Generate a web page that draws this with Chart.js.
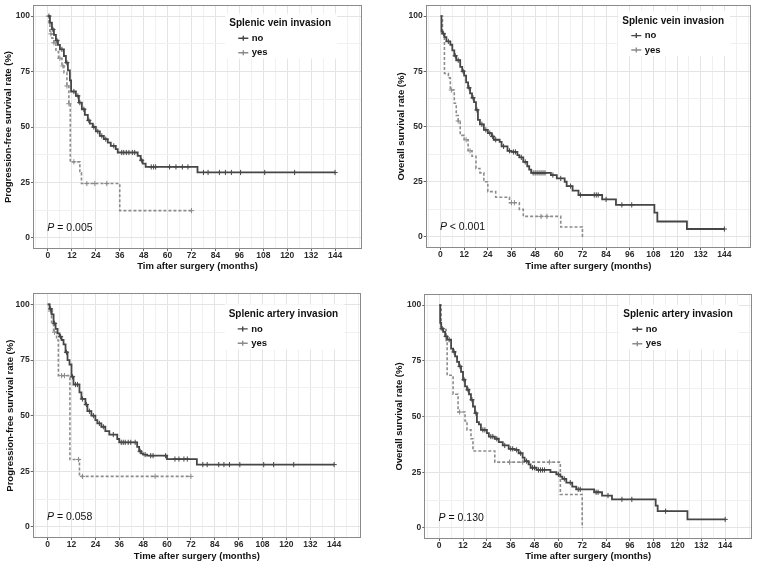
<!DOCTYPE html>
<html>
<head>
<meta charset="utf-8">
<script src="https://cdn.jsdelivr.net/npm/chart.js@4.4.1/dist/chart.umd.min.js"></script>
<style>
  body { margin: 0; background: #fff; }
  #wrap { position: relative; width: 760px; height: 565px; }
  canvas { position: absolute; }
</style>
</head>
<body>
<div id="wrap">
  <canvas id="pfsVein" width="380" height="280" style="left:0;top:0"></canvas>
  <canvas id="osVein" width="380" height="280" style="left:380px;top:0"></canvas>
  <canvas id="pfsArtery" width="380" height="285" style="left:0;top:280px"></canvas>
  <canvas id="osArtery" width="380" height="285" style="left:380px;top:280px"></canvas>
</div>
<script>
var FONT = '"Liberation Sans", Arial, Helvetica, sans-serif';
var NO_COLOR = '#464646';
var YES_COLOR = '#8c8c8c';

var xTickLabels = ['0', '12', '24', '36', '48', '60', '72', '84', '96', '108', '120', '132', '144'];
var yTickLabels = ['0', '25', '50', '75', '100'];
var groupNames = ['no', 'yes'];

// top left: progression-free survival, splenic vein invasion
var pfsVeinNoT = [0, 1, 2, 3, 4, 5, 6, 8, 9, 10, 11, 11.6, 14, 15.5, 17, 18.5, 20, 21, 22.5, 24, 26, 28, 30, 31.5, 34, 35, 45, 46.5, 47.5, 49, 75, 144];
var pfsVeinNoS = [100, 97, 94, 91.5, 89, 87, 85, 82, 79, 75.5, 71, 66, 64, 61, 58, 55.5, 53, 51.5, 50, 48, 46, 44.5, 43, 41.5, 40, 38.5, 37, 35, 33.5, 32, 29.5, 29.5];
var pfsVeinNoCens = [0.5, 2.5, 4.5, 7, 9.5, 13, 15, 16, 18, 20.5, 23, 25, 27, 29, 33, 37, 38, 39.3, 40.6, 42.3, 43.5, 47, 51.8, 53, 54, 61, 64.2, 67.4, 70.2, 78, 80.3, 86, 89, 92, 96.6, 108.7, 123.7, 144];
var pfsVeinYesT = [0, 0.5, 1, 2, 3, 4, 5.3, 7, 8, 9.5, 10.5, 11.2, 16, 16.8, 36, 72];
var pfsVeinYesS = [100, 97, 92, 90, 88, 84, 81, 77.5, 74.5, 68.5, 60.5, 34.3, 29.3, 24.5, 12.3, 12.3];
var pfsVeinYesCens = [1.5, 3, 6, 7.5, 9.5, 10.5, 13, 19.5, 23.5, 29.5, 72];

// top right: overall survival, splenic vein invasion
var osVeinNoT = [0, 0.5, 1, 2, 3, 5, 6, 7, 8, 10, 11, 12, 13, 14, 15, 16, 17, 18, 19, 20, 22, 24, 26, 27, 30, 31, 34, 36, 39, 40, 42, 44, 45, 46, 56, 59, 63, 64, 67, 70, 82, 89, 108.5, 110, 125, 144];
var osVeinNoS = [100, 93, 92, 90.5, 88.5, 87, 84.5, 82, 80, 77, 75, 73, 70, 67.5, 65, 63, 61, 57.5, 53, 51, 48.5, 47, 45.5, 44, 43, 41, 39, 38.5, 37, 36, 34, 32, 30.5, 29, 28, 26.5, 25, 23, 21, 19, 17, 14.5, 11, 7, 3.6, 3.6];
var osVeinNoCens = [1.5, 4, 7.5, 9, 11.5, 14.5, 16.5, 18.5, 21, 23, 25, 26.5, 28, 32, 35, 37, 38, 41, 43, 47, 48, 49, 50, 51, 52, 53, 57, 61, 66, 71, 78, 79, 80, 84, 92, 97, 144];
var osVeinYesT = [0, 1, 2, 4, 5, 7, 8, 9, 10, 12, 14, 16, 18, 20, 22, 24, 28, 35, 40, 42, 61, 72];
var osVeinYesS = [100, 92, 74, 72, 66.5, 60.5, 55, 52.5, 46, 44, 39, 36.5, 31, 29, 25, 20.5, 18, 15.5, 12.5, 9.3, 4.5, 0];
var osVeinYesCens = [5.5, 9, 13, 15, 36, 37.5, 51, 54];

// bottom left: progression-free survival, splenic artery invasion
var pfsArteryNoT = [0, 1, 2, 3, 4, 5, 6, 7, 8, 9, 10, 11, 12, 13, 16, 17, 19, 20, 22, 24, 25, 27, 29, 31, 35, 36, 45, 46, 47, 48, 50, 60, 75, 144];
var pfsArteryNoS = [100, 98, 95.5, 91.5, 89, 87, 85.5, 84, 82, 78.5, 75, 73, 67.5, 64, 60.5, 57.5, 55, 52, 50, 48, 46.5, 45, 43, 41.5, 39.5, 38, 36, 34, 33, 32.5, 32, 30.5, 28, 28];
var pfsArteryNoCens = [1.5, 3.5, 6.5, 9.5, 12.5, 14, 15, 17.5, 19.5, 21, 23, 26, 28, 33, 37, 38, 39, 40.5, 41.8, 44, 46.5, 49, 51.8, 53, 59.3, 64, 66, 68.5, 70.2, 78, 80.2, 86, 88.6, 91.4, 96.6, 108.6, 113.6, 123.7, 144];
var pfsArteryYesT = [0, 1, 2, 3, 4.5, 5.4, 11.2, 16, 72];
var pfsArteryYesS = [100, 97, 91, 87.5, 84, 68, 30.3, 22.7, 22.7];
var pfsArteryYesCens = [1.5, 3.5, 7, 8.5, 15.5, 17.5, 54, 72];

// bottom right: overall survival, splenic artery invasion
var osArteryNoT = [0, 0.5, 1, 2, 3, 4, 6, 7, 8, 9, 10, 11, 12, 13, 14, 15, 16, 17, 18, 19, 20, 21, 24, 25, 28, 30, 32, 35, 38, 40, 42, 43, 45, 46, 49, 56, 59, 61, 62, 64, 67, 69, 78, 82, 87, 109, 110, 125, 144];
var osArteryNoS = [100, 92, 89.5, 88, 86, 84.5, 80.5, 79, 77, 74.5, 72.5, 70, 66.5, 63.5, 62, 60, 57.5, 54.5, 51.5, 47.5, 46.5, 44, 42.5, 41, 40, 38.5, 37, 35.5, 35, 33.5, 31.5, 30, 28.5, 27, 26, 25, 24, 23, 22, 20.3, 18.5, 17.3, 16, 14.5, 12.8, 10, 7.5, 3.8, 3.8];
var osArteryNoCens = [1.5, 3.5, 5, 7.5, 10.5, 12.5, 14.5, 16.5, 18.5, 22, 23, 26, 27, 29, 33, 36, 37, 39, 41, 44, 47, 48, 50, 51, 52, 53, 60, 63, 66, 70, 71, 79, 80, 85, 92, 97, 114, 144];
var osArteryYesT = [0, 1, 3.5, 4, 7, 9.5, 13, 14, 16, 17, 28, 61, 72];
var osArteryYesS = [100, 89, 84, 68.5, 60, 52, 48, 44, 40, 34.5, 29.5, 15, 0];
var osArteryYesCens = [10.3, 35.4, 42, 55.5];

var pTexts = ['= 0.005', '< 0.001', '= 0.058', '= 0.130'];

function survAt(T, S, t) {
  var v = S[0];
  for (var i = 0; i < T.length; i++) {
    if (T[i] <= t) v = S[i];
  }
  return v;
}

function stepPoints(T, S) {
  return T.map(function (t, i) { return { x: t, y: S[i] }; });
}

function censorPoints(T, S, C) {
  return C.map(function (t) { return { x: t, y: survAt(T, S, t) }; });
}

// gridline positions (majors + ggplot-style minor lines)
var gridX = [];
for (var gx = -6; gx <= 156; gx += 6) gridX.push(gx);
var gridY = [0, 12.5, 25, 37.5, 50, 62.5, 75, 87.5, 100];

// legend inside panel, p-value and panel border
var kmDecor = {
  id: 'kmDecor',
  beforeDatasetsDraw: function (chart, args, opts) {
    var ctx = chart.ctx, a = chart.chartArea;
    var lx = a.right - opts.legendDx, ly = a.top + opts.legendDy;
    ctx.save();
    ctx.font = 'bold 10px ' + FONT;
    var tw = ctx.measureText(opts.legendTitle).width;
    ctx.fillStyle = '#fff';
    ctx.fillRect(lx - 4, ly - 10, tw + 10, 45);
    ctx.fillStyle = '#111';
    ctx.textAlign = 'left';
    ctx.textBaseline = 'middle';
    ctx.fillText(opts.legendTitle, lx, ly);

    var colors = [NO_COLOR, YES_COLOR];
    groupNames.forEach(function (name, i) {
      var cy = ly + 14.6 + i * 14.4, cx = lx + 14;
      ctx.strokeStyle = colors[i];
      ctx.lineWidth = 1.4;
      ctx.beginPath();
      ctx.moveTo(cx - 5, cy); ctx.lineTo(cx + 5, cy);
      ctx.moveTo(cx, cy - 2.5); ctx.lineTo(cx, cy + 2.5);
      ctx.stroke();
      ctx.fillStyle = '#111';
      ctx.font = 'bold 9.5px ' + FONT;
      ctx.fillText(name, lx + 22.5, cy);
    });

    var px = chart.scales.x.getPixelForValue(-0.3);
    var py = chart.scales.y.getPixelForValue(4.4);
    ctx.font = 'italic 10.5px ' + FONT;
    ctx.fillStyle = '#111';
    ctx.fillText('P', px, py);
    var pw = ctx.measureText('P').width;
    ctx.font = '10.5px ' + FONT;
    ctx.fillText(' ' + opts.pText, px + pw, py);
    ctx.restore();
  },
  afterDraw: function (chart) {
    var ctx = chart.ctx, a = chart.chartArea;
    ctx.save();
    ctx.strokeStyle = '#8a8a8a';
    ctx.lineWidth = 1;
    ctx.strokeRect(Math.round(a.left) + 0.5, Math.round(a.top) + 0.5,
      Math.round(a.right - a.left) - 1, Math.round(a.bottom - a.top) - 1);
    ctx.restore();
  }
};

function isMajorX(v) { return xTickLabels.indexOf(String(v)) >= 0; }
function isMajorY(v) { return yTickLabels.indexOf(String(v)) >= 0; }

function makeKM(id, noT, noS, noC, yesT, yesS, yesC, yTitle, xTitle, legendTitle, pText, box) {
  return new Chart(document.getElementById(id), {
    type: 'line',
    data: {
      datasets: [
        {
          label: 'no',
          data: stepPoints(noT, noS),
          stepped: true,
          borderColor: NO_COLOR,
          borderWidth: 1.8,
          pointRadius: 0,
          fill: false
        },
        {
          label: 'yes',
          data: stepPoints(yesT, yesS),
          stepped: true,
          borderColor: YES_COLOR,
          borderWidth: 1.6,
          borderDash: [3, 2],
          pointRadius: 0,
          fill: false
        },
        {
          label: 'no censored',
          data: censorPoints(noT, noS, noC),
          showLine: false,
          pointStyle: 'cross',
          pointRadius: 2.6,
          pointBorderWidth: 1,
          pointBorderColor: NO_COLOR
        },
        {
          label: 'yes censored',
          data: censorPoints(yesT, yesS, yesC),
          showLine: false,
          pointStyle: 'cross',
          pointRadius: 2.6,
          pointBorderWidth: 1,
          pointBorderColor: YES_COLOR
        }
      ]
    },
    options: {
      responsive: false,
      animation: false,
      devicePixelRatio: 1,
      layout: {
        padding: { left: 0, top: box.padTop, right: box.padRight, bottom: box.padBottom }
      },
      plugins: {
        legend: { display: false },
        tooltip: { enabled: false },
        kmDecor: { legendTitle: legendTitle, pText: pText, legendDx: box.legendDx, legendDy: box.legendDy }
      },
      scales: {
        x: {
          type: 'linear',
          min: -7.5,
          max: 157.5,
          afterBuildTicks: function (s) { s.ticks = gridX.map(function (v) { return { value: v }; }); },
          afterFit: function (s) { s.height = box.xH; s.paddingLeft = 0; s.paddingRight = 0; },
          border: { display: false },
          grid: {
            color: function (c) { return isMajorX(c.tick.value) ? '#e4e4e4' : '#f0f0f0'; },
            lineWidth: 1,
            tickLength: 2,
            tickColor: function (c) { return isMajorX(c.tick.value) ? '#666' : 'rgba(0,0,0,0)'; }
          },
          ticks: {
            autoSkip: false,
            maxRotation: 0,
            padding: 0,
            color: '#2a2a2a',
            font: { family: FONT, size: 8.5, weight: 'bold' },
            callback: function (v) { return isMajorX(v) ? String(v) : ''; }
          },
          title: {
            display: true,
            text: xTitle,
            color: '#111',
            padding: { top: 0, bottom: box.xTitlePad },
            font: { family: FONT, size: 9.5, weight: 'bold' }
          }
        },
        y: {
          min: -5,
          max: 105,
          afterBuildTicks: function (s) { s.ticks = gridY.map(function (v) { return { value: v }; }); },
          afterFit: function (s) { s.width = box.yW; s.paddingTop = 0; s.paddingBottom = 0; },
          border: { display: false },
          grid: {
            color: function (c) { return isMajorY(c.tick.value) ? '#e4e4e4' : '#f0f0f0'; },
            lineWidth: 1,
            tickLength: 2,
            tickColor: function (c) { return isMajorY(c.tick.value) ? '#666' : 'rgba(0,0,0,0)'; }
          },
          ticks: {
            autoSkip: false,
            padding: 1,
            color: '#2a2a2a',
            font: { family: FONT, size: 8.5, weight: 'bold' },
            callback: function (v) { return isMajorY(v) ? String(v) : ''; }
          },
          title: {
            display: true,
            text: yTitle,
            color: '#111',
            padding: { top: box.yTitlePad, bottom: 0 },
            font: { family: FONT, size: 9.5, weight: 'bold' }
          }
        }
      }
    },
    plugins: [kmDecor]
  });
}

makeKM('pfsVein', pfsVeinNoT, pfsVeinNoS, pfsVeinNoCens, pfsVeinYesT, pfsVeinYesS, pfsVeinYesCens,
  'Progression-free survival rate (%)', 'Tim after surgery (months)', 'Splenic vein invasion', pTexts[0],
  { yW: 33, padTop: 4, padRight: 18, xH: 25, padBottom: 6, xTitlePad: 2, yTitlePad: 2.3, legendDx: 132.7, legendDy: 18.7 });

makeKM('osVein', osVeinNoT, osVeinNoS, osVeinNoCens, osVeinYesT, osVeinYesS, osVeinYesCens,
  'Overall survival rate (%)', 'Time after surgery (months)', 'Splenic vein invasion', pTexts[1],
  { yW: 45.7, padTop: 4, padRight: 9, xH: 26, padBottom: 6, xTitlePad: 2, yTitlePad: 16, legendDx: 128.7, legendDy: 16 });

makeKM('pfsArtery', pfsArteryNoT, pfsArteryNoS, pfsArteryNoCens, pfsArteryYesT, pfsArteryYesS, pfsArteryYesCens,
  'Progression-free survival rate (%)', 'Time after surgery (months)', 'Splenic artery invasion', pTexts[2],
  { yW: 32.7, padTop: 13.3, padRight: 19, xH: 27, padBottom: 0, xTitlePad: 3, yTitlePad: 4.3, legendDx: 132.3, legendDy: 21 });

makeKM('osArtery', osArteryNoT, osArteryNoS, osArteryNoCens, osArteryYesT, osArteryYesS, osArteryYesCens,
  'Overall survival rate (%)', 'Time after surgery (months)', 'Splenic artery invasion', pTexts[3],
  { yW: 44.3, padTop: 14, padRight: 8, xH: 25, padBottom: 1, xTitlePad: 2, yTitlePad: 13.6, legendDx: 128.7, legendDy: 20.7 });
</script>
</body>
</html>
